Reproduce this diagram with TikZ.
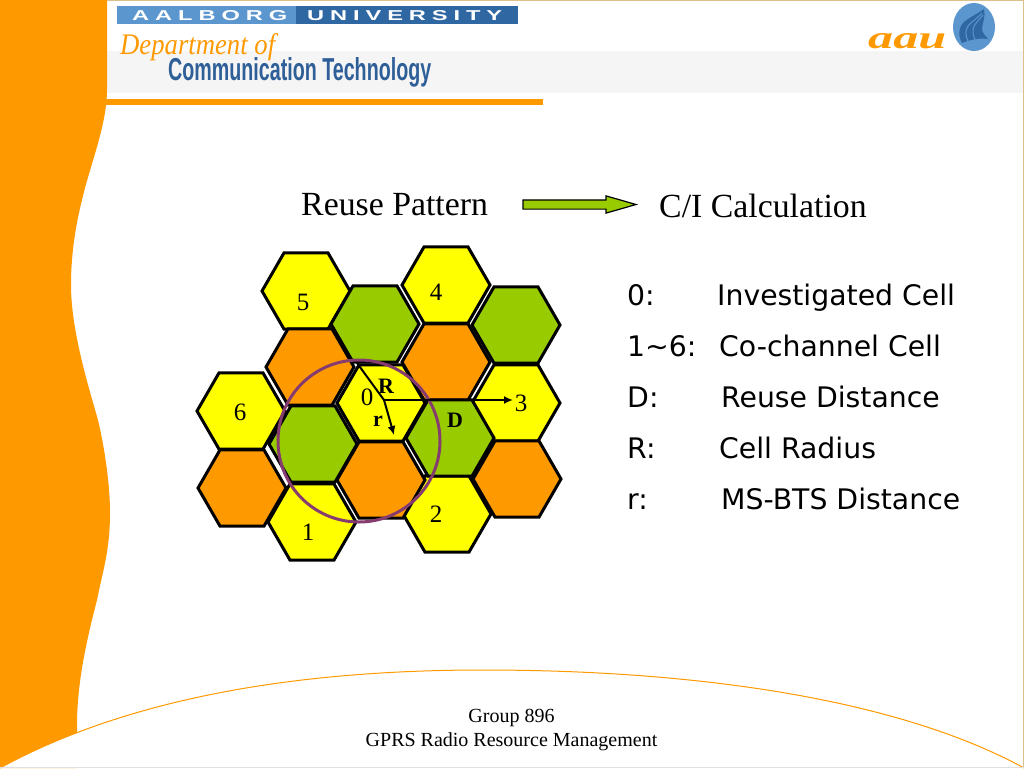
\documentclass[tikz,border=0pt]{standalone}
\usepackage{graphicx}
\usepackage{fontspec}
\setmainfont{Liberation Serif}
\newfontfamily\listfont{DejaVu Sans}
\newfontfamily\headfont{Liberation Sans}
\newfontfamily\logofont[LetterSpace=25]{Liberation Sans}
\usetikzlibrary{shapes.geometric,shapes.arrows,arrows.meta}
\definecolor{bandorange}{HTML}{FF9900}
\definecolor{cellyellow}{HTML}{FFFF00}
\definecolor{cellgreen}{HTML}{99CC00}
\definecolor{ringpurple}{HTML}{863C6E}
\definecolor{logolight}{HTML}{5B96CF}
\definecolor{logodark}{HTML}{2F67A3}
\definecolor{headblue}{HTML}{2F5F98}
\definecolor{edgetan}{HTML}{DCC08A}
\tikzset{
    hexcell/.style = {draw, regular polygon, regular polygon sides=6, minimum size=88pt,
                      inner sep=0pt, outer sep=0pt, line width=3pt, line join=miter},
    cellnum/.style = {inner sep=0pt, font=\fontsize{25}{28}\selectfont},
    markbold/.style = {inner sep=0pt, font=\fontsize{22}{25}\selectfont\bfseries},
    listkey/.style = {anchor=base west, inner sep=0pt, font=\listfont\fontsize{28.3}{32}\selectfont},
    foot/.style = {inner sep=0pt, font=\fontsize{20}{23}\selectfont}
}
\begin{document}
\begin{tikzpicture}[x=1pt, y=-1pt]
    \useasboundingbox (0,0) rectangle (1024,768);
    % Fond
    \fill[white] (0,0) rectangle (1024,768);
    \fill[black!4] (107,51) rectangle (1024,93);
    \fill[edgetan] (0,0) rectangle (1024,1);
    \fill[edgetan] (1023,0) rectangle (1024,768);
    \fill[bandorange] (0,0) -- (107,0) -- (107,90) .. controls (107,125) and (90,165) .. (82,200)
        .. controls (74,232) and (71,260) .. (71,285) .. controls (71,330) and (88,385) .. (98,420)
        .. controls (105,450) and (110,485) .. (110,513) .. controls (110,550) and (103,570) .. (97,600)
        .. controls (88,635) and (77,680) .. (77,725) -- (77,768) -- (0,768) -- cycle;
    \fill[bandorange] (100,99) rectangle (543,105);
    \draw[bandorange, line width=1pt, fill=white] (0,768) .. controls (130,697) and (300,670) .. (483,670)
        .. controls (700,670) and (900,700) .. (1024,768);
    \fill[black!12] (0,767) rectangle (1024,768);

    % En-tete
    \fill[logolight] (117,6) rectangle (296,24);
    \fill[logodark] (296,6) rectangle (518,24);
    \node[anchor=base west, inner sep=0pt, text=white] (aalborg) at (132,20)
        {\resizebox{155pt}{10pt}{\logofont\bfseries AALBORG}};
    \node[anchor=base west, inner sep=0pt, text=white] (university) at (307,20)
        {\resizebox{195pt}{10pt}{\logofont\bfseries UNIVERSITY}};
    \node[anchor=base west, inner sep=0pt, text=bandorange] (dept) at (120,55)
        {\resizebox{155pt}{21pt}{\itshape\fontsize{30}{34}\selectfont Department of}};
    \node[anchor=base west, inner sep=0pt, text=headblue] (comm) at (168,81)
        {\resizebox{263pt}{23pt}{\headfont\bfseries\fontsize{30}{34}\selectfont Communication Technology}};
    \node[anchor=base west, inner sep=0pt, text=bandorange] (aau) at (868,49)
        {\resizebox{78pt}{15pt}{\bfseries\itshape\fontsize{30}{34}\selectfont aau}};
    \fill[logolight] (974,27) ellipse (21 and 24);
    \fill[logodark] (962,43) .. controls (958,36) and (958,28) .. (964,22) .. controls (970,17) and (977,14) .. (984,9)
        .. controls (986,16) and (982,24) .. (982,30) .. controls (983,34) and (986,36) .. (988,39)
        .. controls (980,38) and (972,39) .. (962,43) -- cycle;
    \draw[logolight, line width=1pt] (968,41) .. controls (964,33) and (966,26) .. (972,22) .. controls (976,19) and (979,16) .. (982,13);
    \draw[logolight, line width=1pt] (975,39) .. controls (971,32) and (973,26) .. (977,22) .. controls (979,20) and (981,17) .. (983,15);

    % Titres
    \node[anchor=base west, inner sep=0pt, font=\fontsize{33.8}{38}\selectfont] (reuse) at (301,215) {Reuse Pattern};
    \node[anchor=base west, inner sep=0pt, font=\fontsize{33.8}{38}\selectfont] (calc) at (659,217) {C/I Calculation};
    \node[draw, fill=cellgreen, single arrow, minimum height=113pt, minimum width=17pt, inner xsep=0pt, inner ysep=4pt,
          single arrow tip angle=32, single arrow head extend=4pt, line width=1.2pt] (arrowci) at (571.5,204.5) {};

    % Cellules
    \node[hexcell, fill=cellyellow] (hex5) at (306,291) {};
    \node[hexcell, fill=cellgreen] (hexa) at (516,325) {};
    \node[hexcell, fill=cellyellow] (hex4) at (446,285) {};
    \node[hexcell, fill=cellgreen] (hexb) at (375,324) {};
    \node[hexcell, fill=bandorange] (hexc) at (310,367) {};
    \node[hexcell, fill=bandorange] (hexd) at (446,362) {};
    \node[hexcell, fill=cellyellow] (hex3) at (516,403) {};
    \node[hexcell, fill=cellyellow] (hex6) at (241,411) {};
    \node[hexcell, fill=cellyellow] (hex0) at (381,403) {};
    \node[hexcell, fill=bandorange] (hexe) at (242,488) {};
    \node[hexcell, fill=cellyellow] (hex1) at (312,522) {};
    \node[hexcell, fill=cellyellow] (hex2) at (447,514) {};
    \node[hexcell, fill=bandorange] (hexf) at (517,479) {};
    \node[hexcell, fill=cellgreen] (hexg) at (450,438) {};
    \node[hexcell, fill=cellgreen] (hexh) at (313,444) {};
    \node[hexcell, fill=bandorange] (hexi) at (381,480) {};

    % Cercle
    \node[draw=ringpurple, circle, line width=3pt, minimum size=162pt, inner sep=0pt] (ring) at (359,441) {};

    % Rayons
    \coordinate (centre) at (384,400);
    \coordinate (rtop) at (357,363);
    \coordinate (dend) at (513,400);
    \coordinate (rend) at (394,435);
    \draw[line width=2pt] (rtop) -- (centre);
    \draw[line width=2pt, -{Latex[length=9pt,width=8pt]}] (centre) -- (dend);
    \draw[line width=2pt, -{Latex[length=9pt,width=8pt]}] (centre) -- (rend);

    % Etiquettes
    \node[cellnum] (lab5) at (303,302) {5};
    \node[cellnum] (lab4) at (436,292) {4};
    \node[cellnum] (lab6) at (240,412) {6};
    \node[cellnum] (lab3) at (521,403) {3};
    \node[cellnum] (lab0) at (367,397) {0};
    \node[cellnum] (lab1) at (308,532) {1};
    \node[cellnum] (lab2) at (436,514) {2};
    \node[markbold] (labr) at (386,386) {R};
    \node[markbold] (labs) at (378,421) {r};
    \node[markbold] (labd) at (455,420) {D};

    % Legende
    \node[listkey] (key0) at (627,305) {0:};
    \node[listkey] (val0) at (717,305) {Investigated Cell};
    \node[listkey] (key1) at (627,356) {1\char`\~6:};
    \node[listkey] (val1) at (719,356) {Co-channel Cell};
    \node[listkey] (key2) at (627,407) {D:};
    \node[listkey] (val2) at (721,407) {Reuse Distance};
    \node[listkey] (key3) at (627,458) {R:};
    \node[listkey] (val3) at (719,458) {Cell Radius};
    \node[listkey] (key4) at (627,509) {r:};
    \node[listkey] (val4) at (721,509) {MS-BTS Distance};

    % Pied
    \node[foot] (group) at (511.5,718) {Group 896};
    \node[foot] (gprs) at (511.5,742) {GPRS Radio Resource Management};
\end{tikzpicture}
\end{document}
